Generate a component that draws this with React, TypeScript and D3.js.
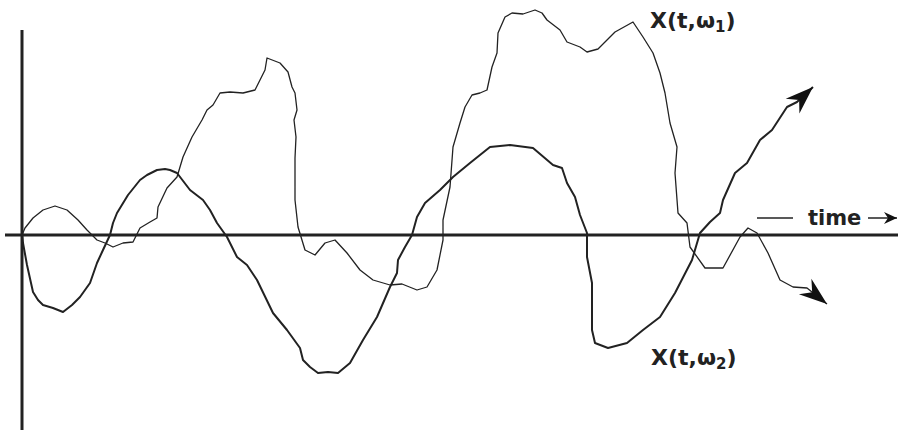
import { useEffect, useRef } from 'react';
import * as d3 from 'd3';

const W = 898;
const H = 436;

// sample path X(t, ω1): time, value
const w1Time = [
  0, 0.03, 0.11, 0.21, 0.33, 0.45, 0.56, 0.65, 0.75, 0.83, 0.91, 1.01, 1.11, 1.18, 1.28, 1.35,
  1.36, 1.45, 1.55, 1.61, 1.7, 1.8, 1.85, 1.91, 1.98, 2.08, 2.21, 2.33, 2.38, 2.43, 2.45, 2.58,
  2.66, 2.7, 2.73, 2.75, 2.72, 2.74, 2.73, 2.73, 2.76, 2.83, 2.93, 3.03, 3.13, 3.25, 3.38, 3.51,
  3.68, 3.8, 3.95, 4.05, 4.15, 4.21, 4.21, 4.28, 4.31, 4.38, 4.43, 4.5, 4.58, 4.65, 4.7, 4.75,
  4.76, 4.83, 4.9, 5.01, 5.13, 5.2, 5.25, 5.38, 5.45, 5.58, 5.65, 5.76, 5.85, 5.93, 6.11, 6.21,
  6.31, 6.38, 6.43, 6.48, 6.55, 6.53, 6.56, 6.65, 6.68, 6.83, 7.01, 7.18, 7.26, 7.35, 7.46, 7.58,
  7.71, 7.85, 8.05,
];
const w1Value = [
  0, 0.07, 0.17, 0.25, 0.29, 0.25, 0.15, 0.05, -0.05, -0.08, -0.12, -0.08, -0.07, 0.07, 0.13, 0.17,
  0.28, 0.47, 0.58, 0.78, 0.98, 1.15, 1.25, 1.3, 1.42, 1.43, 1.42, 1.45, 1.55, 1.65, 1.77, 1.72,
  1.63, 1.48, 1.42, 1.25, 1.15, 0.98, 0.77, 0.35, 0.08, -0.15, -0.2, -0.08, -0.05, -0.18, -0.35, -0.45,
  -0.5, -0.49, -0.55, -0.52, -0.35, -0.05, 0.15, 0.48, 0.88, 1.12, 1.28, 1.4, 1.42, 1.45, 1.68, 1.82,
  2.02, 2.18, 2.22, 2.21, 2.25, 2.22, 2.15, 2.05, 1.93, 1.88, 1.83, 1.86, 1.95, 2.03, 2.13, 1.98,
  1.82, 1.62, 1.42, 1.12, 0.88, 0.62, 0.22, 0.12, -0.12, -0.33, -0.33, -0.02, 0.07, 0.02, -0.18, -0.45,
  -0.52, -0.53, -0.69,
];

// sample path X(t, ω2): time, value
const w2Time = [
  0, 0.01, 0.05, 0.11, 0.16, 0.21, 0.31, 0.41, 0.5, 0.58, 0.68, 0.75, 0.81, 0.88, 0.91, 0.95,
  1.06, 1.18, 1.25, 1.35, 1.43, 1.48, 1.55, 1.68, 1.81, 1.88, 1.95, 2.05, 2.15, 2.25, 2.35, 2.51,
  2.65, 2.78, 2.81, 2.88, 2.96, 3.06, 3.16, 3.28, 3.41, 3.55, 3.68, 3.75, 3.76, 3.83, 3.9, 3.95,
  4.03, 4.18, 4.31, 4.48, 4.68, 4.88, 5.11, 5.31, 5.4, 5.45, 5.53, 5.58, 5.65, 5.65, 5.7, 5.7,
  5.73, 5.86, 6.05, 6.21, 6.38, 6.53, 6.7, 6.78, 6.88, 6.98, 7.01, 7.13, 7.25, 7.38, 7.5, 7.65,
  7.75, 7.91,
];
const w2Value = [
  0, -0.08, -0.3, -0.57, -0.65, -0.7, -0.73, -0.77, -0.7, -0.62, -0.48, -0.28, -0.15, 0, 0.12, 0.22,
  0.4, 0.55, 0.6, 0.65, 0.66, 0.65, 0.62, 0.45, 0.35, 0.25, 0.12, -0.02, -0.22, -0.3, -0.45, -0.78,
  -0.95, -1.13, -1.25, -1.32, -1.38, -1.37, -1.38, -1.28, -1.05, -0.82, -0.52, -0.38, -0.25, -0.12, 0, 0.18,
  0.32, 0.45, 0.58, 0.72, 0.88, 0.9, 0.87, 0.7, 0.67, 0.52, 0.38, 0.2, 0.02, -0.22, -0.48, -0.95,
  -1.08, -1.13, -1.08, -0.95, -0.82, -0.58, -0.25, 0.02, 0.13, 0.22, 0.35, 0.62, 0.72, 0.95, 1.05, 1.28,
  1.33, 1.48,
];

const FONT = '"DejaVu Sans", "Liberation Sans", sans-serif';

export default function App() {
  const svgRef = useRef<SVGSVGElement>(null);

  useEffect(() => {
    document.body.style.margin = '0';
    if (!svgRef.current) return;
    const svg = d3.select(svgRef.current);
    svg.selectAll('*').remove();

    const x = d3.scaleLinear().domain([0, 8.76]).range([22, 898]);
    const y = d3.scaleLinear().domain([-2, 2.35]).range([435, 0]);

    const defs = svg.append('defs');
    defs.append('marker')
      .attr('id', 'head')
      .attr('markerUnits', 'userSpaceOnUse')
      .attr('viewBox', '-30 -12 32 24')
      .attr('refX', 0)
      .attr('refY', 0)
      .attr('markerWidth', 32)
      .attr('markerHeight', 24)
      .attr('orient', 'auto')
      .append('path')
      .attr('d', 'M0,0 L-28,-10 L-19,0 L-28,10 Z')
      .attr('fill', '#111');
    defs.append('marker')
      .attr('id', 'small')
      .attr('markerUnits', 'userSpaceOnUse')
      .attr('viewBox', '-14 -7 15 14')
      .attr('refX', 0)
      .attr('refY', 0)
      .attr('markerWidth', 15)
      .attr('markerHeight', 14)
      .attr('orient', 'auto')
      .append('path')
      .attr('d', 'M0,0 L-13,-6 L-9,0 L-13,6 Z')
      .attr('fill', '#111');

    // axes
    svg.append('line')
      .attr('x1', x(-0.17)).attr('x2', x(8.76))
      .attr('y1', y(0)).attr('y2', y(0))
      .attr('stroke', '#222').attr('stroke-width', 3);
    svg.append('line')
      .attr('x1', x(0)).attr('x2', x(0))
      .attr('y1', y(2.05)).attr('y2', y(-1.95))
      .attr('stroke', '#222').attr('stroke-width', 3);

    const line = d3.line<[number, number]>()
      .x(d => x(d[0]))
      .y(d => y(d[1]));

    const w1 = w1Time.map((t, i) => [t, w1Value[i]] as [number, number]);
    const w2 = w2Time.map((t, i) => [t, w2Value[i]] as [number, number]);

    svg.append('path')
      .attr('d', line(w1))
      .attr('fill', 'none')
      .attr('stroke', '#222')
      .attr('stroke-width', 1.3)
      .attr('stroke-linejoin', 'round')
      .attr('marker-end', 'url(#head)');
    svg.append('path')
      .attr('d', line(w2))
      .attr('fill', 'none')
      .attr('stroke', '#222')
      .attr('stroke-width', 2)
      .attr('stroke-linejoin', 'round')
      .attr('marker-end', 'url(#head)');

    // labels
    const label = (tx: number, ty: number, sub: string) => {
      const t = svg.append('text')
        .attr('x', tx).attr('y', ty)
        .attr('font-family', FONT)
        .attr('font-size', 22)
        .attr('font-weight', 600)
        .attr('fill', '#222');
      t.append('tspan').text('X(t,ω');
      t.append('tspan').attr('font-size', 15).attr('dy', 4).text(sub);
      t.append('tspan').attr('dy', -4).text(')');
    };
    label(650, 28, '1');
    label(651, 365, '2');

    // time arrow
    svg.append('line')
      .attr('x1', 757).attr('x2', 793)
      .attr('y1', 218).attr('y2', 218)
      .attr('stroke', '#222').attr('stroke-width', 1.5);
    svg.append('text')
      .attr('x', 808).attr('y', 225)
      .attr('font-family', FONT)
      .attr('font-size', 21)
      .attr('font-weight', 600)
      .attr('fill', '#222')
      .text('time');
    svg.append('line')
      .attr('x1', 868).attr('x2', 897)
      .attr('y1', 218).attr('y2', 218)
      .attr('stroke', '#222').attr('stroke-width', 1.5)
      .attr('marker-end', 'url(#small)');
  }, []);

  return (
    <svg ref={svgRef} width={W} height={H} viewBox={`0 0 ${W} ${H}`} style={{ display: 'block', background: '#fff' }} />
  );
}
